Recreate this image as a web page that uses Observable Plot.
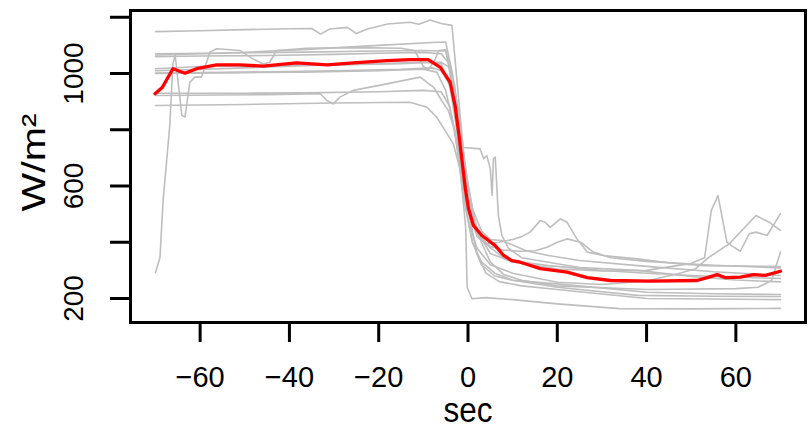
<!DOCTYPE html>
<html>
<head>
<meta charset="utf-8">
<script src="https://cdn.jsdelivr.net/npm/d3@7"></script>
<script src="https://cdn.jsdelivr.net/npm/@observablehq/plot@0.6"></script>
<style>
  html, body { margin: 0; padding: 0; background: #fff; }
</style>
</head>
<body>
<div id="chart"></div>
<script>
// ---- data: [sec, W/m2] ----
const series1 = [[-70,1149],[-60,1152],[-50,1156],[-40,1159],[-35,1160],[-33,1140],[-31,1158],[-27,1164],[-25,1142],[-22.5,1158],[-18,1176],[-13,1182],[-11,1175],[-8.5,1190],[-6,1178],[-3.6,1171],[-1.1,737],[2.7,732],[3.5,697],[4.2,708],[5,661],[5.4,566],[5.7,697],[6.1,703],[6.8,495],[7.6,424],[9,380],[12,345],[18,329],[25,310],[38,300],[50,278],[60,266],[70,259]];
const series2 = [[-70,1066],[-55,1072],[-37,1085],[-20,1100],[-8,1110],[-5,1112],[-3.5,1000],[-2,800],[-0.5,600],[1,480],[2.5,420],[5,380],[8,345],[12,330],[18,317],[30,300],[40,290],[55,278],[70,271]];
const series3 = [[-70,292],[-69,346],[-68.3,548],[-66.8,815],[-66.1,1036],[-65.6,1064],[-64.1,851],[-63.4,845],[-62.3,969],[-61.2,987],[-59.7,987],[-57.8,1076],[-56.3,1088],[-51.1,1082],[-48.2,1052],[-45.9,1034],[-44.4,1040],[-42.9,1082],[-36.2,1090],[-25,1092],[-15,1090],[-12,1082],[-10,1025],[-9,1011],[-7.5,1046],[-6.5,1082],[-5,1085],[-3.5,950],[-2,720],[-0.5,520],[1,400],[3,330],[6,290],[10,265],[20,240],[38,211],[55,208],[70,207]];
const series4 = [[-70,1017],[-60,1025],[-45,1028],[-30,1030],[-15,1035],[-8,1040],[-6,1040],[-4,1020],[-2.5,900],[-1,700],[0.5,500],[2,420],[4,395],[7,400],[10,410],[12,420],[13.9,436],[16.2,477],[17.3,471],[18.4,453],[20.7,483],[22.2,471],[24.4,412],[26.7,365],[30.3,353],[37.9,341],[45.3,326],[52.8,317],[70,314]];
const series5 = [[-70,1002],[-50,1005],[-30,1010],[-15,1015],[-8,1020],[-6,1010],[-4,960],[-2,800],[0,560],[2,430],[5,385],[8,372],[12,368],[15,370],[17.7,382],[20,400],[22.2,412],[25.2,400],[28.1,365],[32,345],[40,332],[55,318],[70,309]];
const series6 = [[-70,1060],[-60,1062],[-45,1064],[-30,1068],[-20,1072],[-10,1075],[-6,1070],[-4,1030],[-2,850],[0,600],[2,440],[5,360],[10,330],[20,305],[30,298],[40,300],[50,325],[53,345],[54.5,513],[56,566],[58,400],[59,388],[61,368],[63,430],[64.5,436],[67,424],[70,502]];
const series7 = [[-70,922],[-45,925],[-33.1,928],[-31.6,904],[-30.2,892],[-28.7,916],[-25.7,940],[-18.2,963],[-10.7,987],[-7.7,951],[-5.9,904],[-4.4,868],[-3,800],[-1.5,650],[0,480],[2,380],[5,320],[10,290],[20,258],[30,250],[40,262],[47,288],[51,306],[54,347],[58.5,394],[64.5,495],[67.5,471],[70,442]];
const series8 = [[-70,886],[-50,890],[-30,895],[-13,898],[-9.2,880],[-7,845],[-4.7,786],[-3.3,750],[-1,613],[1.2,495],[3,400],[5,330],[8,285],[12,265],[20,245],[40,232],[60,235],[65,240],[68,264],[70,365]];
const series9 = [[-70,1070],[-50,1074],[-37,1076],[-20,1080],[-10,1082],[-5,1080],[-3,960],[-1,700],[1,520],[3,440],[5,410],[7.5,406],[10,390],[13,370],[18,353],[25,335],[38,317],[55,295],[70,282]];
const series10 = [[-70,1000],[-50,1003],[-37,1005],[-20,1010],[-10,1015],[-7,1005],[-5,940],[-3,800],[-1,560],[1,400],[3,320],[6,280],[10,265],[20,252],[40,222],[55,217],[70,214]];
const series11 = [[-70,1010],[-50,1020],[-37,1028],[-20,1035],[-10,1040],[-6,1035],[-4,950],[-2,750],[0,520],[2,360],[4,290],[7,260],[12,245],[20,232],[40,200],[55,198],[70,196]];
const series12 = [[-70,930],[-50,930],[-37,931],[-20,935],[-10,940],[-6,935],[-4,880],[-2,700],[-0.5,450],[-0.2,240],[0.9,199],[4,203],[10,196],[20,181],[34,164],[50,163],[60,164],[70,165]];
const meanLine = [[-70.1,928],[-68.5,950],[-66.1,1017],[-63.4,1001],[-60.8,1017],[-56.3,1031],[-51.1,1031],[-45.9,1026],[-38.4,1038],[-31.6,1031],[-25.7,1038],[-18.2,1046],[-13,1049],[-8.9,1049],[-6.2,1022],[-4,969],[-2.9,886],[-2.1,791],[-1.4,698],[-0.6,591],[0.1,520],[1.2,460],[3.1,424],[6.1,388],[8,353],[9.8,335],[11.7,329],[16.2,306],[22.2,294],[26.7,274],[31.9,264],[40.9,262],[51.3,264],[53.6,274],[55.8,285],[57.7,274],[61,276],[64,285],[66.6,282],[70,297]];

const xTicks = [-60, -40, -20, 0, 20, 40, 60];
const yTicks = [200, 400, 600, 800, 1000, 1200];
const yLabels = [200, 600, 1000];
const xTitle = "sec";
const yTitle = "W/m\u00b2";

const greySeries = [series1, series2, series3, series4, series5, series6, series7, series8, series9, series10, series11, series12];
const greyRows = greySeries.flatMap((s, i) => s.map(([t, v]) => ({id: i, t, v})));
const meanRows = meanLine.map(([t, v]) => ({t, v}));
const fmt = d => (d < 0 ? "\u2212" + Math.abs(d) : String(d));
const FONT = "'Liberation Sans', Arial, sans-serif";

const chart = Plot.plot({
  width: 812,
  height: 429,
  marginLeft: 130,
  marginRight: 7,
  marginTop: 10,
  marginBottom: 107,
  style: {fontFamily: FONT, background: "#fff", color: "#000", overflow: "visible"},
  x: {domain: [-75.6, 75.6]},
  y: {domain: [114.7, 1224]},
  marks: [
    Plot.line(greyRows, {x: "t", y: "v", z: "id", stroke: "#bebebe", strokeWidth: 1.6}),
    Plot.line(meanRows, {x: "t", y: "v", stroke: "#ff0000", strokeWidth: 3.3}),
    Plot.frame({stroke: "#000", strokeWidth: 3}),
    Plot.axisX({ticks: xTicks, tickSize: 20, strokeWidth: 3, stroke: "#000", tickFormat: () => "", label: null}),
    Plot.axisY({ticks: yTicks, tickSize: 20, strokeWidth: 3, stroke: "#000", tickFormat: () => "", label: null}),
    Plot.text(xTicks, {x: d => d, text: fmt, frameAnchor: "bottom", lineAnchor: "middle", textAnchor: "middle", dy: 55, fontSize: 29, fill: "#000"}),
    Plot.text(yLabels, {y: d => d, text: fmt, frameAnchor: "left", lineAnchor: "middle", textAnchor: "middle", dx: -56, rotate: -90, fontSize: 28, fill: "#000"}),
    Plot.text([xTitle], {frameAnchor: "bottom", lineAnchor: "middle", textAnchor: "middle", dy: 88, fontSize: 35, fill: "#000"}),
    Plot.text([yTitle], {frameAnchor: "left", lineAnchor: "middle", textAnchor: "middle", dx: -96, dy: -4, rotate: -90, fontSize: 34, fill: "#000"})
  ]
});
// stretch the axis titles to the length they have in the reference
d3.select(chart).selectAll("text").each(function () {
  const t = this.textContent;
  if (t === yTitle) { this.setAttribute("textLength", 98); this.setAttribute("lengthAdjust", "spacingAndGlyphs"); }
  if (t === xTitle) { this.setAttribute("textLength", 49); this.setAttribute("lengthAdjust", "spacingAndGlyphs"); }
});
document.getElementById("chart").appendChild(chart);
</script>
</body>
</html>
